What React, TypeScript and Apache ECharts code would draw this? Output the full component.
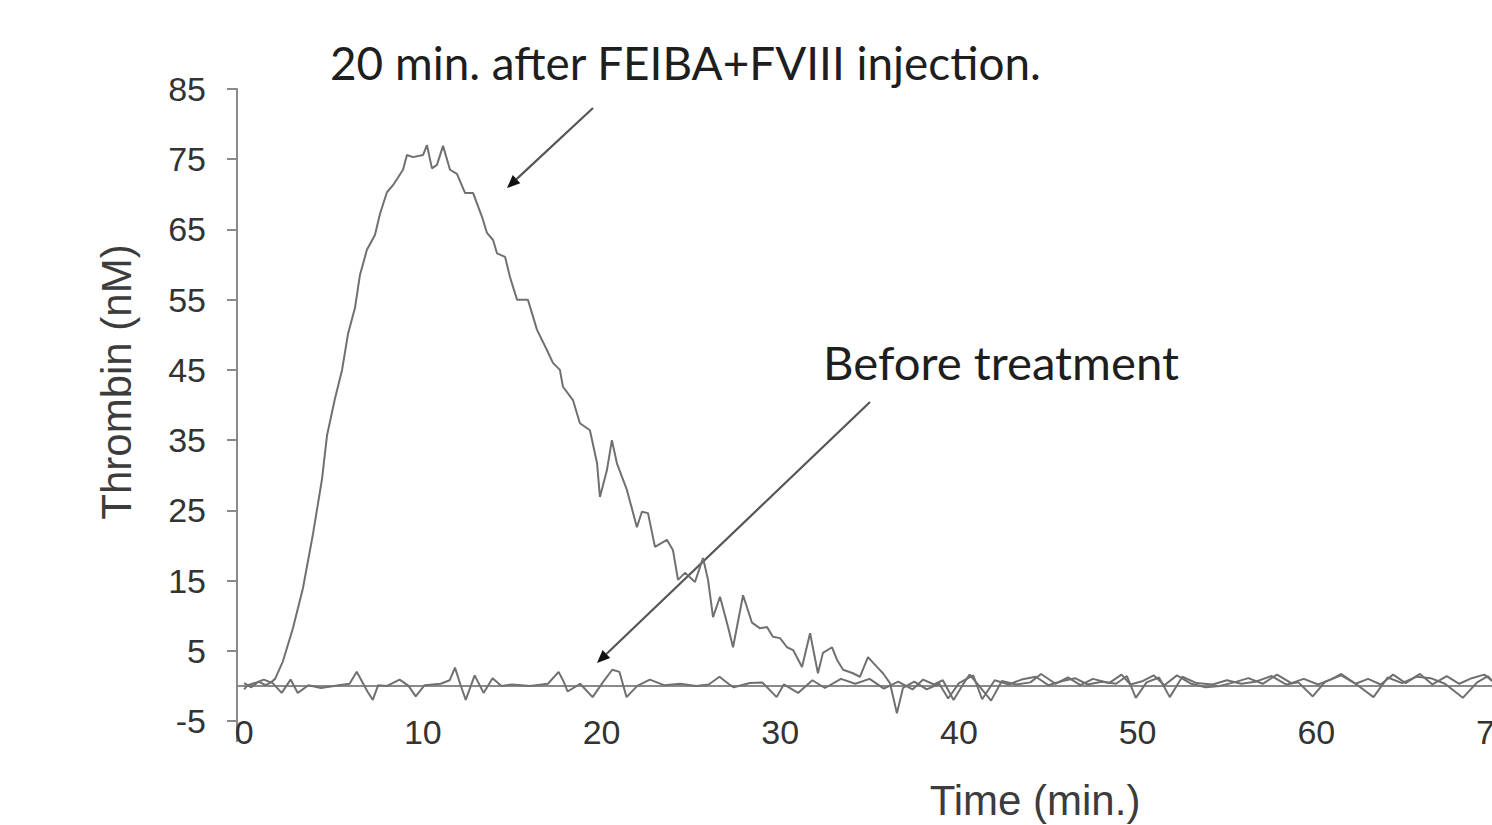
import React, { useEffect, useRef } from "react";
import * as echarts from "echarts";

// ---- Data ----
const X_TICKS = [0, 10, 20, 30, 40, 50, 60, 70];

// 20 min. after FEIBA+FVIII injection
const timeA = [
  0, 0.4, 0.8, 1.2, 1.5, 1.73, 2.17, 2.73, 3.29, 3.85,
  4.36, 4.64, 5.08, 5.48, 5.81, 6.2, 6.48, 6.87, 7.32, 7.6,
  7.99, 8.33, 8.89, 9.11, 9.45, 10.01, 10.23, 10.51, 10.79, 11.13,
  11.52, 11.91, 12.36, 12.81, 13.31, 13.59, 13.93, 14.15, 14.6, 14.88,
  15.27, 15.88, 16.39, 16.95, 17.28, 17.67, 17.84, 18.4, 18.79, 19.35,
  19.75, 19.91, 20.3, 20.58, 20.86, 21.42, 21.98, 22.26, 22.6, 22.99,
  23.66, 24.0, 24.28, 24.67, 25.23, 25.68, 25.96, 26.24, 26.63, 27.08,
  27.36, 27.92, 28.42, 28.87, 29.26, 29.59, 29.99, 30.38, 30.72, 31.22,
  31.67, 32.11, 32.39, 32.9, 33.18, 33.52, 34.07, 34.46, 34.91, 35.41,
  35.75, 36.14, 36.53, 36.87,
  37.5, 38.2, 38.9, 39.4, 40.0, 40.8, 41.3, 42.0, 42.8, 43.5,
  44.3, 45.0, 45.8, 46.5, 47.2, 48.0, 48.8, 49.4, 49.9, 50.5,
  51.2, 51.8, 52.5, 53.3, 54.2, 55.0, 55.8, 56.6, 57.5, 58.3,
  59.0, 59.8, 60.5, 61.4, 62.2, 63.2, 64.0, 64.8, 65.6, 66.4,
  67.2, 68.2, 69.0, 69.6, 70.0,
];
const thrombinA = [
  0.4, -0.2, 0.6, 0.1, 0.5, 1.0, 3.5, 8.2, 13.9, 21.6,
  29.5, 35.7, 40.9, 45.0, 50.1, 53.8, 58.5, 62.1, 64.2, 67.2,
  70.3, 71.3, 73.5, 75.6, 75.3, 75.6, 77.0, 73.7, 74.2, 76.9,
  73.5, 72.9, 70.2, 70.2, 66.8, 64.5, 63.5, 61.6, 61.1, 58.2,
  55.0, 55.0, 50.7, 47.8, 46.0, 45.0, 42.6, 40.7, 37.4, 36.4,
  31.7, 26.9, 30.7, 35.0, 31.7, 27.9, 22.6, 24.8, 24.6, 19.8,
  20.8, 19.3, 15.1, 16.1, 14.8, 18.2, 15.1, 9.8, 12.7, 8.4,
  5.5, 12.9, 9.0, 8.2, 8.4, 7.0, 6.8, 5.5, 5.1, 2.7,
  7.5, 1.8, 4.7, 5.5, 3.7, 2.3, 1.8, 1.3, 4.1, 2.7,
  1.8, 0.4, -3.9, -0.3,
  0.6, -0.5, 0.3, -1.8, 0.4, 1.5, -1.9, 0.8, 0.2, 0.9,
  1.3, 0.1, 0.7, 1.1, 0.2, 0.6, 0.3, 1.4, -1.7, 0.5,
  1.2, -1.6, 1.3, 0.4, 0.2, 0.8, 0.3, 0.6, 1.4, 0.2,
  0.5, -1.5, 0.6, 1.5, 0.3, -1.6, 1.2, 0.4, 1.3, 1.1,
  0.3, -1.7, 0.5, 1.4, 0.3,
];

// Before treatment
const timeB = [
  0, 0.2, 0.7, 1.1, 1.6, 2.1, 2.6, 3.0, 3.6, 4.3,
  5.3, 5.9, 6.3, 6.9, 7.2, 7.5, 8.0, 8.7, 9.2, 9.6,
  10.1, 11.0, 11.5, 11.8, 12.1, 12.4, 12.9, 13.4, 13.9, 14.4,
  15.0, 16.0, 17.0, 17.6, 17.9, 18.1, 18.8, 19.5, 20.1, 20.6,
  21.0, 21.4, 22.0, 22.7, 23.5, 24.4, 25.3, 26.0, 26.6, 27.1,
  27.4, 28.3, 29.0, 29.8, 30.2, 31.0, 31.8, 32.5, 33.4, 34.2,
  35.0, 35.8, 36.6, 37.4, 38.0, 38.6, 39.1, 39.7, 40.3, 40.6,
  41.0, 41.8, 42.4, 43.2, 44.0, 44.6, 45.4, 46.1, 46.8, 47.5,
  48.4, 49.1, 49.6, 50.3, 50.9, 51.5, 52.2, 53.0, 53.8, 54.6,
  55.4, 56.2, 57.0, 57.8, 58.6, 59.3, 60.1, 60.8, 61.4, 62.2,
  62.9, 63.6, 64.3, 65.0, 65.8, 66.5, 67.3, 68.0, 68.7, 69.4,
  70.0,
];
const thrombinB = [
  -0.5, 0.1, 0.5, 0.9, 0.4, -1.0, 0.9, -1.0, 0.1, -0.3,
  0.1, 0.3, 2.0, -0.8, -2.0, 0.1, 0.0, 0.9, 0.0, -1.5,
  0.1, 0.3, 0.8, 2.6, 0.2, -2.0, 1.5, -1.0, 1.1, 0.0,
  0.2, 0.0, 0.3, 2.0, 0.5, -0.8, 0.3, -1.6, 0.6, 2.3,
  2.0, -1.6, 0.0, 0.9, 0.1, 0.3, 0.0, 0.2, 1.3, 0.3,
  -0.2, 0.4, 0.5, -1.6, 0.2, -1.0, 0.8, -0.3, 1.0, 0.3,
  1.0, -0.4, 0.6, -0.5, 0.9, 0.2, 0.8, -2.0, 0.5, 1.6,
  0.4, -2.1, 0.7, 0.2, 0.5, 1.7, 0.3, 1.2, 0.1, 1.0,
  0.4, 1.6, 0.2, 0.7, 1.5, 0.1, 1.5, 0.3, -0.2, 0.0,
  0.5, 1.1, 0.3, 1.6, 0.4, 1.0, 0.2, 0.9, 1.7, 0.3,
  1.0, 0.2, 1.6, 0.4, 1.7, 0.2, 1.4, 0.3, 1.1, 1.6,
  0.4,
];

const TITLE_TEXT = "20 min. after FEIBA+FVIII injection.";
const BEFORE_TEXT = "Before treatment";
const Y_TITLE = "Thrombin (nM)";
const X_TITLE = "Time (min.)";

function fitScale(text: string, font: string, target: number): number {
  const ctx = document.createElement("canvas").getContext("2d");
  if (!ctx) return 1;
  ctx.font = font;
  const w = ctx.measureText(text).width;
  return w > 0 ? target / w : 1;
}

function arrow(x1: number, y1: number, x2: number, y2: number, color: string) {
  const dx = x2 - x1;
  const dy = y2 - y1;
  const len = Math.sqrt(dx * dx + dy * dy);
  const ux = dx / len;
  const uy = dy / len;
  const hl = 13;
  const hw = 5.5;
  const bx = x2 - ux * hl;
  const by = y2 - uy * hl;
  const nx = -uy;
  const ny = ux;
  return [
    {
      type: "line",
      silent: true,
      shape: { x1, y1, x2: bx, y2: by },
      style: { stroke: color, lineWidth: 2.2 },
    },
    {
      type: "polygon",
      silent: true,
      shape: {
        points: [
          [x2, y2],
          [bx + nx * hw, by + ny * hw],
          [bx - nx * hw, by - ny * hw],
        ],
      },
      style: { fill: "#111" },
    },
  ];
}

export default function App() {
  const ref = useRef<HTMLDivElement>(null);

  useEffect(() => {
    if (!ref.current) return;
    const chart = echarts.init(ref.current, undefined, { renderer: "svg" });

    const dataA = timeA.map((t, i) => [t, thrombinA[i]]);
    const dataB = timeB.map((t, i) => [t, thrombinB[i]]);

    const calloutFont = "Lato";
    const titleSize = 46;
    const titleScale = fitScale(TITLE_TEXT, `${titleSize}px ${calloutFont}`, 712);
    const beforeScale = fitScale(BEFORE_TEXT, `${titleSize}px ${calloutFont}`, 356);

    const sans = "'Liberation Sans', Arial, sans-serif";
    const axisGray = "#8a8a8a";
    const lineGray = "#707070";

    const option: any = {
      animation: false,
      backgroundColor: "#ffffff",
      grid: {
        left: 237,
        right: -3,
        top: 89,
        bottom: 104,
        containLabel: false,
        outerBoundsMode: "none",
      },
      xAxis: {
        type: "value",
        min: -0.4,
        max: 70,
        axisLine: { show: false, onZero: false },
        axisTick: { show: false },
        splitLine: { show: false },
        axisLabel: {
          customValues: X_TICKS,
          fontSize: 34,
          fontFamily: sans,
          color: "#333",
          margin: -6,
          hideOverlap: false,
        },
      },
      yAxis: {
        type: "value",
        min: -5,
        max: 85,
        interval: 10,
        axisLine: { show: true, onZero: false, lineStyle: { color: axisGray, width: 2 } },
        axisTick: { show: true, length: 10, lineStyle: { color: axisGray, width: 2 } },
        splitLine: { show: false },
        axisLabel: { fontSize: 34, fontFamily: sans, color: "#333", margin: 31 },
      },
      series: [
        {
          name: "Before treatment",
          type: "line",
          data: dataB,
          showSymbol: false,
          symbol: "none",
          lineStyle: { color: lineGray, width: 2 },
          z: 3,
          markLine: {
            silent: true,
            symbol: ["none", "none"],
            label: { show: false },
            lineStyle: { color: axisGray, width: 2, type: "solid" },
            data: [{ yAxis: 0 }],
            z: 2,
          },
        },
        {
          name: "20 min. after FEIBA+FVIII injection",
          type: "line",
          data: dataA,
          showSymbol: false,
          symbol: "none",
          lineStyle: { color: lineGray, width: 2 },
          z: 4,
        },
      ],
      graphic: [
        {
          type: "line",
          silent: true,
          shape: { x1: 237, y1: 721, x2: 237, y2: 742 },
          style: { stroke: axisGray, lineWidth: 2 },
        },
        {
          type: "text",
          silent: true,
          x: 330,
          y: 62,
          scaleX: titleScale,
          style: {
            text: TITLE_TEXT,
            fontSize: titleSize,
            fontFamily: calloutFont,
            fill: "#1e1e1e",
            align: "left",
            verticalAlign: "middle",
          },
        },
        {
          type: "text",
          silent: true,
          x: 823,
          y: 362,
          scaleX: beforeScale,
          style: {
            text: BEFORE_TEXT,
            fontSize: titleSize,
            fontFamily: calloutFont,
            fill: "#1e1e1e",
            align: "left",
            verticalAlign: "middle",
          },
        },
        {
          type: "text",
          silent: true,
          x: 116,
          y: 382,
          rotation: Math.PI / 2,
          style: {
            text: Y_TITLE,
            fontSize: 42,
            fontFamily: sans,
            fill: "#3c3c3c",
            align: "center",
            verticalAlign: "middle",
          },
        },
        {
          type: "text",
          silent: true,
          x: 1035,
          y: 800,
          style: {
            text: X_TITLE,
            fontSize: 42,
            fontFamily: sans,
            fill: "#3c3c3c",
            align: "center",
            verticalAlign: "middle",
          },
        },
        ...arrow(593, 108, 507, 188, "#555"),
        ...arrow(870, 402, 597, 663, "#555"),
      ],
    };

    chart.setOption(option);
    return () => chart.dispose();
  }, []);

  return (
    <div
      ref={ref}
      style={{ position: "absolute", left: 0, top: 0, width: 1492, height: 825, background: "#fff" }}
    />
  );
}
